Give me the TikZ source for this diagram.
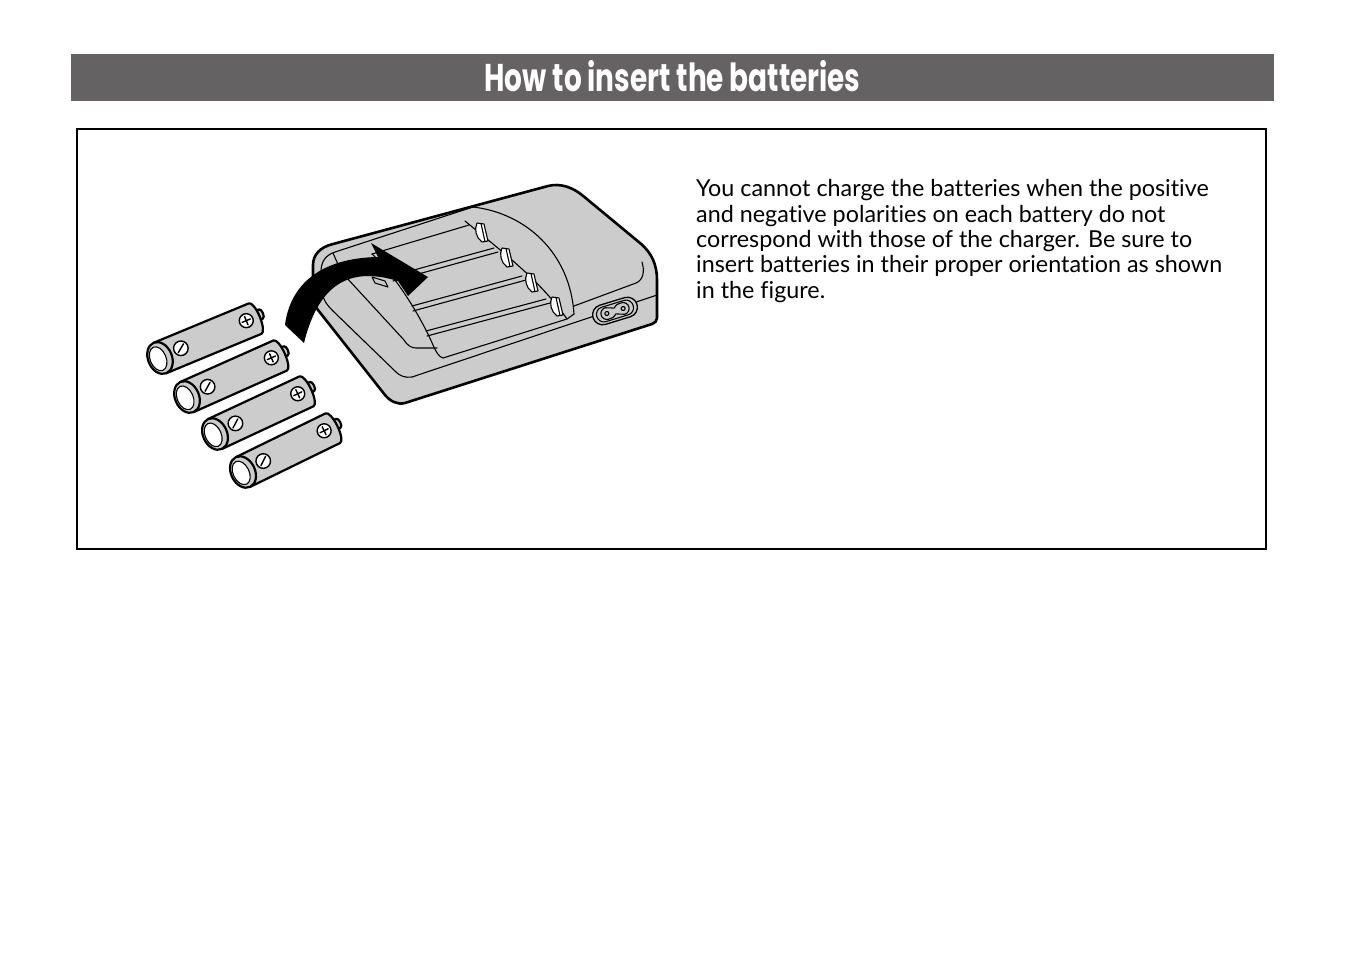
\documentclass[tikz,border=0pt]{standalone}
\usepackage{graphicx}
\usepackage{fontspec}
\setmainfont[Ligatures=NoCommon]{Lato}
\newfontfamily\titlefont{Poppins}
\definecolor{ltgray}{HTML}{CCCCCC}
\definecolor{bargray}{HTML}{646262}
\newlength\refw
\newcommand\drawbattery[4]{%
 \begin{scope}[shift={(#1,#2)}, rotate=#4]
  \filldraw[fill=ltgray, batline] (#3,-7) -- (#3+7,-7) .. controls (#3+10,-7) and (#3+10,3) .. (#3+7,3) -- (#3,3) -- cycle;
  \filldraw[fill=ltgray, batline] (0,-16.5) -- (#3,-16.5) .. controls (#3+2.8,-16.5) and (#3+5,-9.1) .. (#3+5,0) .. controls (#3+5,9.1) and (#3+2.8,16.5) .. (#3,16.5) -- (0,16.5) -- cycle;
  \filldraw[fill=ltgray, batline] (0,0) ellipse[x radius=12, y radius=16.5];
  \filldraw[fill=white, fineline] (-2,0) ellipse[x radius=8, y radius=12.5];
  \filldraw[fill=white, symline] (23,-1) circle[radius=7.3];
  \draw[symline] (18.9,2.1) -- (27.1,-4.1);
  \filldraw[fill=white, symline] (#3-9,-1.5) circle[radius=7];
  \draw[symline] (#3-13.5,-1.5) -- (#3-4.5,-1.5) (#3-9,-6) -- (#3-9,3);
 \end{scope}}
\newcommand\drawnotch[2]{%
  \filldraw[fill=white, fineline] (#1-4,#2-10) -- (#1+3,#2-9) -- (#1+7,#2+8) -- (#1+1,#2+9) .. controls (#1-5,#2+5) and (#1-7,#2-4) .. cycle;
  \draw[fineline] (#1,#2-9.5) -- (#1+4,#2+8.5);}
\begin{document}
\settowidth{\refw}{insert batteries in their proper orientation as shown}%
\pgfmathsetmacro\tscale{526/\refw}%
\begin{tikzpicture}[x=1pt,y=-1pt,
  outline/.style={line width=2.6pt, line join=round},
  batline/.style={line width=2.2pt, line join=round},
  fineline/.style={line width=1.1pt, line cap=round, line join=round},
  symline/.style={line width=1.4pt, line cap=round},
  txt/.style={anchor=base west, inner sep=0pt, text=black}]
\useasboundingbox (0,0) rectangle (1346,954);
\fill[white] (0,0) rectangle (1346,954);
% title bar
\node (bar) [fill=bargray, minimum width=1203pt, minimum height=47pt, inner sep=0pt, anchor=north west] at (71,54) {};
\node (title) [anchor=base, inner sep=0pt, text=white] at (672.5,91) {\resizebox{376pt}{31pt}{\titlefont\bfseries How to insert the batteries}};
% frame
\node (frame) [draw=black, line width=2.8pt, minimum width=1189pt, minimum height=420pt, inner sep=0pt] at (671.5,339) {};
% text
\node (t1) [txt] at (696,196.7) {\scalebox{\tscale}{You cannot charge the batteries when the positive}};
\node (t2) [txt] at (696,222.1) {\scalebox{\tscale}{and negative polarities on each battery do not}};
\node (t3) [txt] at (696,247.5) {\scalebox{\tscale}{correspond with those of the charger. Be sure to}};
\node (t4) [txt] at (696,272.9) {\scalebox{\tscale}{insert batteries in their proper orientation as shown}};
\node (t5) [txt] at (696,298.3) {\scalebox{\tscale}{in the figure.}};
% charger shell
\filldraw[fill=ltgray, outline] (333,244) -- (548,186) .. controls (560,183) and (572,187) .. (582,195) -- (640,243) .. controls (652,253) and (657,265) .. (657,280) -- (657,318) .. controls (657,321) and (655,323) .. (652,324) -- (405,403) .. controls (397,405) and (390,401) .. (385,395) -- (318,310) .. controls (315,306) and (313,302) .. (313,296) -- (313,265) .. controls (313,255) and (320,247) .. (333,244) -- cycle;
% top face borders
\draw[fineline] (473,207) -- (335,252) .. controls (326,255) and (321,261) .. (321,272) -- (322,292) .. controls (323,300) and (327,305) .. (333,311) -- (396,372) .. controls (400,376) and (405,378) .. (412,377) -- (657,295);
\draw[fineline] (333,253) .. controls (337,262) and (340,270) .. (346,277) -- (404,340) .. controls (407,345) and (411,348) .. (416,348) -- (437,348);
% well
\draw[fineline] (372,254) .. controls (395,275) and (420,315) .. (433,345) .. controls (436,352) and (439,357) .. (443,358) -- (567,319) -- (574,314);
\draw[fineline] (372,254) -- (469,225);
\draw[fineline] (392,276) -- (494,248) (393,281) -- (498,252);
\draw[fineline] (412,306) -- (522,276) (413,311) -- (526,280);
\draw[fineline] (426,331) -- (546,299) (427,336) -- (550,303);
\draw[fineline] (465,221) .. controls (500,250) and (540,280) .. (567,319);
\draw[fineline] (473,207) .. controls (525,213) and (570,252) .. (574,314);
\draw[fineline] (574,306) -- (636,283) .. controls (643,280) and (645,272) .. (642,262);
\filldraw[fill=ltgray, fineline] (372,277) -- (385,281) -- (388,287) -- (375,283) -- cycle;
\drawnotch{481}{233}
\drawnotch{506}{258}
\drawnotch{531}{283}
\drawnotch{556}{307}
% socket
\begin{scope}[shift={(615,311)}, rotate=17]
 \filldraw[fill=ltgray, line width=1.3pt] (-13,-10) -- (13,-10) .. controls (18.5,-10) and (23,-5.5) .. (23,0) .. controls (23,5.5) and (18.5,10) .. (13,10) -- (-13,10) .. controls (-18.5,10) and (-23,5.5) .. (-23,0) .. controls (-23,-5.5) and (-18.5,-10) .. (-13,-10) -- cycle;
 \draw[fineline] (-12,-7.5) -- (12,-7.5) .. controls (16,-7.5) and (19,-4) .. (19,0) .. controls (19,4) and (16,7.5) .. (12,7.5) -- (-12,7.5) .. controls (-16,7.5) and (-19,4) .. (-19,0) .. controls (-19,-4) and (-16,-7.5) .. (-12,-7.5) -- cycle;
 \draw[fineline] (0,-3) .. controls (3,-6) and (5,-6) .. (8.5,-6) .. controls (11.8,-6) and (14.5,-3.3) .. (14.5,0) .. controls (14.5,3.3) and (11.8,6) .. (8.5,6) .. controls (5,6) and (3,3) .. (0,3) .. controls (-3,6) and (-5,6) .. (-8.5,6) .. controls (-11.8,6) and (-14.5,3.3) .. (-14.5,0) .. controls (-14.5,-3.3) and (-11.8,-6) .. (-8.5,-6) .. controls (-5,-6) and (-3,-3) .. (0,-3) -- cycle;
 \draw[fineline] (-8.5,0) circle[radius=2] (8.5,0) circle[radius=2];
\end{scope}
% arrow
\fill[black] (285,325) .. controls (290,285) and (320,258) .. (378,257) -- (371,243) -- (428,277) -- (408,296) -- (398,281) .. controls (355,268) and (320,278) .. (304,343) -- cycle;
% batteries
\drawbattery{160}{358}{103}{22.5}
\drawbattery{187}{397}{102}{24}
\drawbattery{215}{434}{101}{25}
\drawbattery{243}{472}{100}{26}
\end{tikzpicture}
\end{document}
